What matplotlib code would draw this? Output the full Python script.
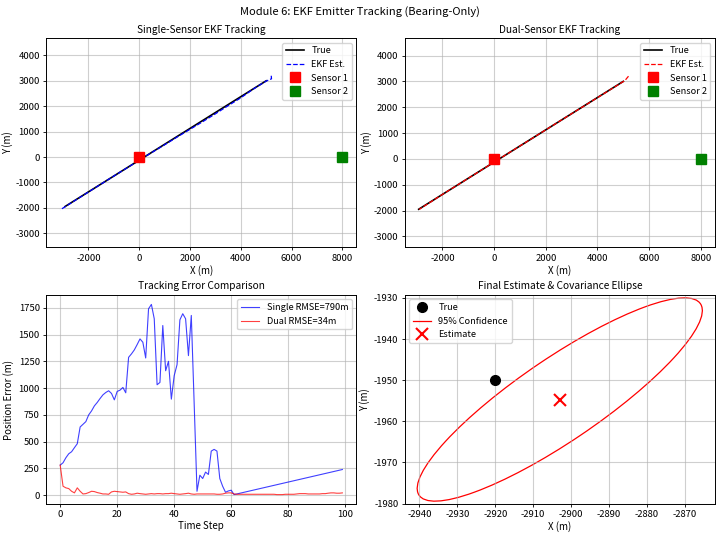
import numpy as np
import matplotlib
matplotlib.use("Agg")
import matplotlib.pyplot as plt
from matplotlib.patches import Ellipse
from matplotlib.lines import Line2D

plt.rcParams['font.family'] = ['Noto Sans CJK SC', 'DejaVu Sans']
plt.rcParams['axes.unicode_minus'] = False

# ---- data ----
sensor1 = [0, 0]
sensor2 = [8000, 0]

true_x = [5000, -2920]
true_y = [3000, -1950]

single_est_x = [5200, 5210, 5000, 4500, 4000, 3500, 3000, 2500, 2000, 1500, 1000, 500, 0, -1000, -2000, -3110]
single_est_y = [3200, 3080, 2990, 2680, 2330, 2020, 1700, 1390, 1090, 790, 480, 180, -130, -750, -1380, -2080]

dual_est_x = [5200, 5060, 4000, 3000, 2000, 1000, 0, -1000, -2000, -2902]
dual_est_y = [3200, 3030, 2370, 1750, 1125, 500, -125, -750, -1375, -1955]

single_t = list(range(0, 62)) + [99]
single_err = [281, 303, 350, 387, 406, 444, 481, 637, 662, 687,
              750, 787, 834, 866, 903, 937, 959, 975, 950, 890,
              969, 981, 1006, 956, 1287, 1319, 1356, 1406, 1459, 1428,
              1281, 1740, 1781, 1647, 1031, 1053, 1584, 1162, 1250, 897,
              1116, 1219, 1637, 1694, 1647, 1303, 1678, 860, 37, 187,
              156, 216, 194, 412, 428, 412, 156, 84, 28, 40,
              47, 6, 240]

dual_t = list(range(0, 100))
dual_err = [281, 84, 69, 62, 37, 22, 69, 37, 12, 15,
            25, 37, 34, 25, 19, 12, 12, 9, 31, 37,
            34, 31, 28, 31, 15, 9, 12, 19, 15, 12,
            9, 12, 15, 12, 15, 15, 12, 15, 15, 19,
            15, 12, 9, 12, 15, 19, 12, 9, 12, 12,
            12, 12, 12, 12, 12, 9, 9, 12, 19, 22,
            22, 12, 9, 9, 9, 9, 9, 9, 9, 9,
            9, 9, 9, 9, 9, 9, 6, 6, 6, 9,
            9, 9, 9, 12, 15, 15, 15, 12, 12, 12,
            12, 12, 15, 15, 19, 22, 22, 19, 19, 22]

single_rmse = 790
dual_rmse = 34

final_true = [-2920, -1950]
final_est = [-2903, -1954.7]
final_cov95 = [[1414.0, 812.6], [812.6, 610.0]]

# ---- figure ----
fig, axes = plt.subplots(2, 2, figsize=(7.2, 5.38), dpi=100)
fig.subplots_adjust(left=0.064, right=0.993, top=0.929, bottom=0.063,
                    wspace=0.155, hspace=0.227)
fs_tick = 6.8
fs_lab = 7
fs_title = 7.3
fs_leg = 6.6

def style(ax):
    ax.grid(True, alpha=0.6, linewidth=0.8)
    ax.tick_params(labelsize=fs_tick, length=2.5, pad=2, width=0.6)
    for s in ax.spines.values():
        s.set_linewidth(0.7)

for ax, est_x, est_y, col, ttl in [
        (axes[0, 0], single_est_x, single_est_y, 'b', 'Single-Sensor EKF Tracking'),
        (axes[0, 1], dual_est_x, dual_est_y, 'r', 'Dual-Sensor EKF Tracking')]:
    ax.plot(true_x, true_y, 'k-', lw=1.2, label='True')
    ax.plot(est_x, est_y, '--', color=col, lw=0.9, label='EKF Est.')
    ax.plot(sensor1[0], sensor1[1], 's', color='red', ms=7.5, label='Sensor 1')
    ax.plot(sensor2[0], sensor2[1], 's', color='green', ms=7.5, label='Sensor 2')
    ax.set_title(ttl, fontsize=fs_title, pad=4)
    ax.set_xlabel('X (m)', fontsize=fs_lab, labelpad=1.5)
    ax.set_ylabel('Y (m)', fontsize=fs_lab, labelpad=1.5)
    ax.legend(fontsize=fs_leg, loc='upper right')
    ax.axis('equal')
    style(ax)

ax = axes[1, 0]
ax.plot(single_t, single_err, 'b-', lw=0.8, alpha=0.75, label=f'Single RMSE={single_rmse}m')
ax.plot(dual_t, dual_err, 'r-', lw=0.8, alpha=0.75, label=f'Dual RMSE={dual_rmse}m')
ax.set_title('Tracking Error Comparison', fontsize=fs_title, pad=4)
ax.set_xlabel('Time Step', fontsize=fs_lab, labelpad=1.5)
ax.set_ylabel('Position Error (m)', fontsize=fs_lab, labelpad=3)
ax.legend(fontsize=fs_leg, loc='upper right')
style(ax)

ax = axes[1, 1]
ax.plot(final_true[0], final_true[1], 'ko', ms=7, label='True')
cov = np.array(final_cov95)
vals, vecs = np.linalg.eigh(cov)
ang = np.degrees(np.arctan2(vecs[1, 1], vecs[0, 1]))
ell = Ellipse(final_est, 2 * np.sqrt(vals[1]), 2 * np.sqrt(vals[0]), angle=ang,
              fill=False, edgecolor='red', lw=0.9)
ax.add_patch(ell)
ax.plot(final_est[0], final_est[1], 'rx', ms=8, mew=1.5, label='Estimate')
ax.autoscale_view()
handles = [Line2D([], [], color='k', marker='o', ls='none', ms=7),
           Line2D([], [], color='red', lw=0.9),
           Line2D([], [], color='red', marker='x', ls='none', ms=8, mew=1.5)]
ax.legend(handles, ['True', '95% Confidence', 'Estimate'], fontsize=fs_leg, loc='upper left')
ax.set_title('Final Estimate & Covariance Ellipse', fontsize=fs_title, pad=4)
ax.set_xlabel('X (m)', fontsize=fs_lab, labelpad=1.5)
ax.set_ylabel('Y (m)', fontsize=fs_lab, labelpad=3)
style(ax)

fig.suptitle('Module 6: EKF Emitter Tracking (Bearing-Only)', fontsize=8, y=0.988)
fig.savefig('out.png', dpi=100)
